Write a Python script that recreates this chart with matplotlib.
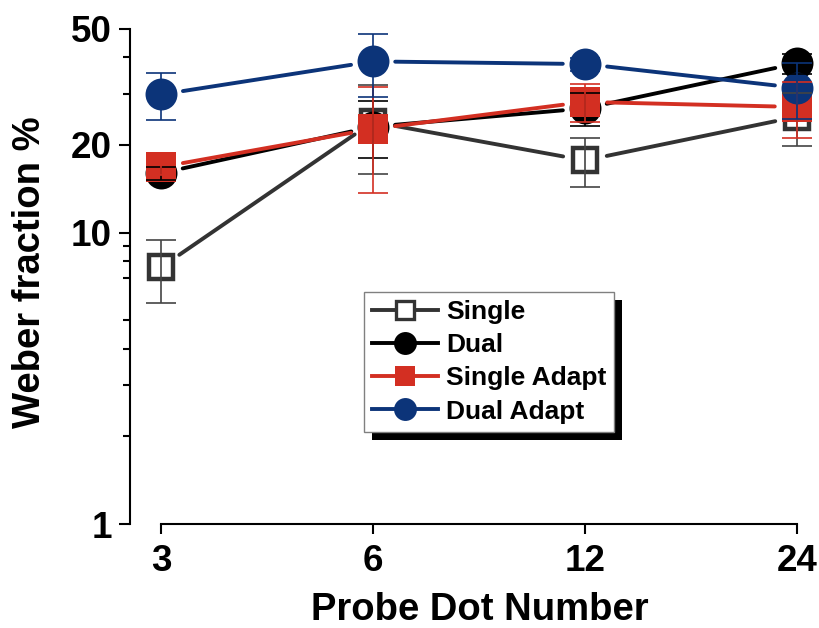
import matplotlib
matplotlib.use('Agg')
import matplotlib.pyplot as plt
from matplotlib.lines import Line2D
from matplotlib.ticker import FixedLocator, NullFormatter, NullLocator, FixedFormatter
import matplotlib.patheffects as pe

plt.rcParams['font.family'] = ['Liberation Sans', 'DejaVu Sans']
plt.rcParams['font.weight'] = 'bold'

# ---- data ----
dot_numbers = [3, 6, 12, 24]
x_tick_labels = ['3', '6', '12', '24']
y_major_ticks = [1, 10, 20, 50]
y_tick_labels = ['1', '10', '20', '50']
y_minor_ticks = [2, 3, 4, 5, 7, 8, 9, 30, 40]

series_names = ['Single', 'Dual', 'Single Adapt', 'Dual Adapt']
single = [7.6, 24.0, 17.7, 25.0]
single_err = [1.85, 8.1, 3.4, 5.2]
dual = [16.0, 23.1, 26.7, 38.1]
dual_err = [0.8, 5.1, 3.5, 3.0]
single_adapt = [16.8, 22.7, 28.1, 27.0]
single_adapt_err = [1.0, 9.0, 4.2, 5.9]
dual_adapt = [29.8, 38.7, 37.9, 31.4]
dual_adapt_err = [5.4, 9.4, 2.0, 6.9]

# ---- styles ----
GRAY = '#333333'
RED = '#d32f22'
BLUE = '#0c3479'
styles = [
    dict(y=single, err=single_err, color=GRAY, ecolor='#444444', marker='s', mfc='white', ms=17.5, mew=3.2, lms=12.5, lmew=2.4),
    dict(y=dual, err=dual_err, color='black', ecolor='black', marker='o', mfc='black', ms=23, mew=0, lms=16.5, lmew=0),
    dict(y=single_adapt, err=single_adapt_err, color=RED, ecolor=RED, marker='s', mfc=RED, ms=21, mew=0, lms=14.5, lmew=0),
    dict(y=dual_adapt, err=dual_adapt_err, color=BLUE, ecolor=BLUE, marker='o', mfc=BLUE, ms=23, mew=0, lms=16.5, lmew=0),
]

fig = plt.figure(figsize=(8.2, 6.28), dpi=100)
ax = fig.add_axes([130 / 820, 1 - 524 / 628, (797 - 130) / 820, (524 - 29) / 628])
ax.set_xscale('log', base=2)
ax.set_yscale('log')
ax.set_xlim(3 / 2 ** (31 / 212), 24)
ax.set_ylim(1, 50)

for s in ['top', 'right']:
    ax.spines[s].set_visible(False)
for s in ['left', 'bottom']:
    ax.spines[s].set_linewidth(1.5)
ax.spines['bottom'].set_bounds(3, 24)

ax.xaxis.set_major_locator(FixedLocator(dot_numbers))
ax.xaxis.set_major_formatter(FixedFormatter(x_tick_labels))
ax.xaxis.set_minor_locator(NullLocator())
ax.yaxis.set_major_locator(FixedLocator(y_major_ticks))
ax.yaxis.set_major_formatter(FixedFormatter(y_tick_labels))
ax.yaxis.set_minor_locator(FixedLocator(y_minor_ticks))
ax.yaxis.set_minor_formatter(NullFormatter())

ax.tick_params(axis='x', which='major', direction='out', length=7.5, width=1.5,
               labelsize=26.5, pad=7)
ax.tick_params(axis='y', which='major', direction='out', length=8, width=1.5,
               labelsize=26.5, pad=5)
ax.tick_params(axis='y', which='minor', direction='out', length=5, width=1.5)
for lab in ax.get_xticklabels() + ax.get_yticklabels():
    lab.set_fontweight('bold')

for i, st in enumerate(styles):
    c = st['color']
    ys = st['y']
    # connecting lines with gaps at the markers
    for j in range(len(dot_numbers) - 1):
        ax.annotate('', xy=(dot_numbers[j + 1], ys[j + 1]), xytext=(dot_numbers[j], ys[j]),
                    xycoords='data', textcoords='data', annotation_clip=False,
                    arrowprops=dict(arrowstyle='-', color=c, lw=2.8, shrinkA=16, shrinkB=16),
                    zorder=2 + i * 0.1)
    ax.plot(dot_numbers, ys, ls='none', marker=st['marker'], ms=st['ms'],
            mfc=st['mfc'], mec=c, mew=st['mew'], clip_on=False, zorder=3 + i * 0.1)
    eb = ax.errorbar(dot_numbers, ys, yerr=st['err'], fmt='none', ecolor=st['ecolor'],
                     elinewidth=1.2, capsize=10.5, capthick=1.2, zorder=5 + i * 0.1)
    for art in eb.lines[1] + eb.lines[2]:
        art.set_clip_on(False)

handles = [Line2D([0], [0], color=st['color'], lw=2.8, marker=st['marker'], ms=st['lms'],
                  mfc=st['mfc'], mec=st['color'], mew=st['lmew']) for st in styles]
leg = ax.legend(handles, series_names, loc='upper left',
                bbox_to_anchor=(364 / 820, 1 - 292 / 628), bbox_transform=fig.transFigure,
                prop={'weight': 'bold', 'size': 19}, frameon=True, fancybox=False,
                edgecolor='#808080', framealpha=1, borderpad=0.3, labelspacing=0.35,
                handlelength=2.5, handletextpad=0.3, borderaxespad=0)
leg.get_frame().set_linewidth(1.0)
leg.get_frame().set_path_effects([pe.SimplePatchShadow(offset=(6, -6), shadow_rgbFace='black', alpha=1.0),
                                  pe.Normal()])
leg.set_zorder(10)

ax.set_xlabel('Probe Dot Number', fontsize=27.5, fontweight='bold')
ax.set_ylabel('Weber fraction %', fontsize=27.5, fontweight='bold')
ax.xaxis.set_label_coords(0.525, -0.174)
ax.xaxis.label.set_va('center')
ax.yaxis.set_label_coords(-0.15, 0.509)
ax.yaxis.label.set_va('center')

fig.savefig('out.png', dpi=100)
